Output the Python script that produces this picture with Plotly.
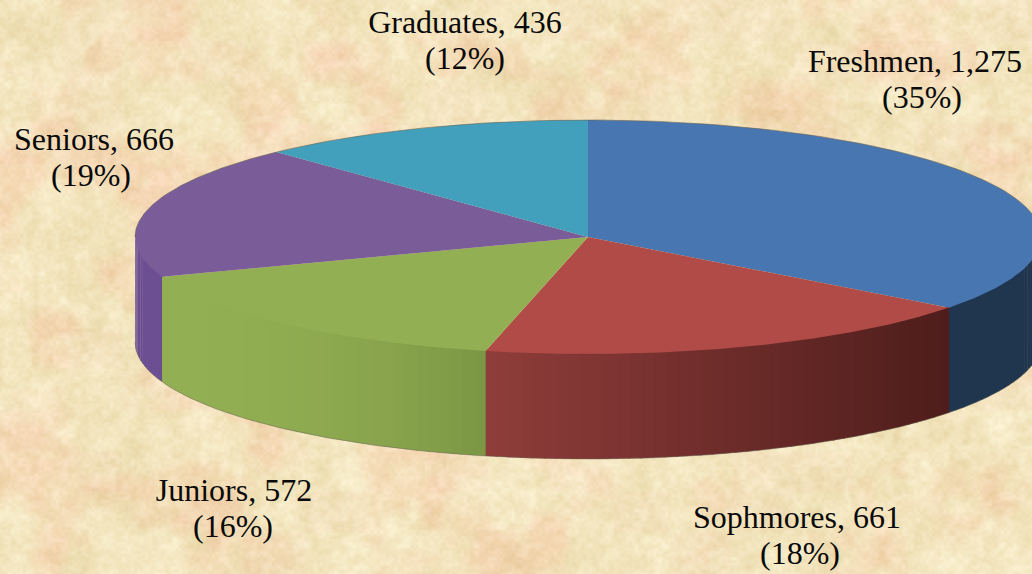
import base64, struct, zlib
import numpy as np
import plotly.graph_objects as go

categories = ["Freshmen", "Sophmores", "Juniors", "Seniors", "Graduates"]
counts = [1275, 661, 572, 666, 436]
percents = [35, 18, 16, 19, 12]
top_colors = ["#4776B0", "#B04B48", "#93AF53", "#795C98", "#42A0BC"]
# side colour of each slice at its left and right ends
side_left = ["#20364F", "#8F3D3A", "#93AF53", "#6C4F92", "#42A0BC"]
side_right = ["#20364F", "#4E1D1B", "#7C9744", "#6C4F92", "#42A0BC"]
label_x = [915, 797, 234, 94, 465]
label_x2 = [922, 800, 233, 91, 465]
label_y = [64, 520, 493, 142, 25]

W, H = 1032, 574
CX, CY, RX, RY, DEPTH = 588.0, 237.0, 453.0, 117.0, 105.0


def hash2(ix, iy, salt):
    v = np.sin(ix * 12.9898 + iy * 78.233 + salt * 37.719) * 43758.5453
    return v - np.floor(v)


def value_noise(xx, yy, cell, salt):
    gx, gy = xx / cell, yy / cell
    ix, iy = np.floor(gx), np.floor(gy)
    fx, fy = gx - ix, gy - iy
    fx, fy = fx * fx * (3 - 2 * fx), fy * fy * (3 - 2 * fy)
    top = hash2(ix, iy, salt) * (1 - fx) + hash2(ix + 1, iy, salt) * fx
    bot = hash2(ix, iy + 1, salt) * (1 - fx) + hash2(ix + 1, iy + 1, salt) * fx
    return (top * (1 - fy) + bot * fy) - .5


def texture():
    yy, xx = np.mgrid[0:H, 0:W].astype(float)
    n = (7 * value_noise(xx, yy, 3, 1) + 8 * value_noise(xx, yy, 7, 2)
         + 8 * value_noise(xx, yy, 16, 3) + 7 * value_noise(xx, yy, 40, 4))
    # pinkish blotches, partly along the repeat tiles of the background image
    p = np.clip(value_noise(xx, yy, 55, 5) * 2.2 + value_noise(xx, yy, 18, 6), 0, 1)
    tx, ty = (xx // 61), (yy // 41)
    warm = (hash2(tx, ty, 7) > .74) * 1.0
    r = 243 + 0.9 * n + 1 * p + .5 * warm
    g = 230 + 1.3 * n - 14 * p - 3 * warm
    b = 191 + 2.1 * n - 12 * p - 1 * warm
    rgb = np.clip(np.dstack([r, g, b]), 0, 255).astype(np.uint8)
    raw = b"".join(b"\x00" + rgb[i].tobytes() for i in range(H))

    def chunk(t, d):
        return struct.pack(">I", len(d)) + t + d + struct.pack(">I", zlib.crc32(t + d))

    png = (b"\x89PNG\r\n\x1a\n" + chunk(b"IHDR", struct.pack(">IIBBBBB", W, H, 8, 2, 0, 0, 0))
           + chunk(b"IDAT", zlib.compress(raw, 6)) + chunk(b"IEND", b""))
    return "data:image/png;base64," + base64.b64encode(png).decode()


def px(t):
    return CX + RX * np.sin(t)


def py(t):
    return CY - RY * np.cos(t)


def mix(c1, c2, f):
    a = [int(c1[i:i + 2], 16) for i in (1, 3, 5)]
    b = [int(c2[i:i + 2], 16) for i in (1, 3, 5)]
    return "rgb(%d,%d,%d)" % tuple(round(a[i] + (b[i] - a[i]) * f) for i in range(3))


shares = np.array(counts, float) / sum(counts)
edges = np.concatenate([[0], np.cumsum(shares)]) * 2 * np.pi

fig = go.Figure()

# walls: visible on the front half of the rim only
for i, name in enumerate(categories):
    a0, a1 = max(edges[i], np.pi / 2), min(edges[i + 1], 3 * np.pi / 2)
    if a1 <= a0:
        continue
    steps = max(2, int((a1 - a0) / np.radians(1.5)))
    ts = np.linspace(a0, a1, steps + 1)
    xr, xl = px(a0), px(a1)  # going clockwise, x runs right to left
    for k in range(steps):
        mid = (ts[k] + ts[k + 1]) / 2
        f = np.clip((px(mid) - xl) / max(xr - xl, 1), 0, 1)
        col = mix(side_left[i], side_right[i], f ** 2.0 if i == 2 else f)
        seg = np.linspace(ts[k], ts[k + 1] + .004, 4)
        x = np.concatenate([px(seg), px(seg[::-1])])
        y = np.concatenate([py(seg) - 2, py(seg[::-1]) + DEPTH])
        fig.add_trace(go.Scatter(x=x, y=y, mode="lines", fill="toself", fillcolor=col,
                                 line=dict(width=0), hoverinfo="skip", showlegend=False))

# silhouette edge
front = np.linspace(np.pi / 2, 3 * np.pi / 2, 200)
fig.add_trace(go.Scatter(x=px(front), y=py(front) + DEPTH, mode="lines",
                         line=dict(color="rgba(105,100,85,0.5)", width=1),
                         hoverinfo="skip", showlegend=False))

# top faces
for i, name in enumerate(categories):
    ts = np.linspace(edges[i], edges[i + 1], 160)
    x = np.concatenate([[CX], px(ts), [CX]])
    y = np.concatenate([[CY], py(ts), [CY]])
    fig.add_trace(go.Scatter(x=x, y=y, mode="lines", fill="toself", fillcolor=top_colors[i],
                             line=dict(width=0), name=name, hoverinfo="skip", showlegend=False))

rim = np.linspace(-np.pi / 2, np.pi / 2, 240)
fig.add_trace(go.Scatter(x=px(rim), y=py(rim), mode="lines",
                         line=dict(color="rgba(105,100,85,0.6)", width=1),
                         hoverinfo="skip", showlegend=False))

# labels
font = dict(family="Liberation Serif, Times New Roman, serif", size=32, color="#0A0A0A")
fig.add_trace(go.Scatter(x=label_x, y=label_y, mode="text",
                         text=[f"{c}, {v:,}" for c, v in zip(categories, counts)],
                         textposition="middle center", textfont=font,
                         hoverinfo="skip", showlegend=False))
fig.add_trace(go.Scatter(x=label_x2, y=[v + 36 for v in label_y], mode="text",
                         text=[f"({p}%)" for p in percents],
                         textposition="middle center", textfont=font,
                         hoverinfo="skip", showlegend=False))

fig.update_layout(
    width=W, height=H, margin=dict(l=0, r=0, t=0, b=0),
    paper_bgcolor="#F3E5BD", plot_bgcolor="rgba(0,0,0,0)",
    xaxis=dict(range=[0, W], visible=False, fixedrange=True),
    yaxis=dict(range=[H, 0], visible=False, fixedrange=True),
    images=[dict(source=texture(), xref="paper", yref="paper", x=0, y=1, sizex=1, sizey=1,
                 xanchor="left", yanchor="top", sizing="stretch", layer="below")],
)
fig.write_html("out.html", config={"displayModeBar": False, "responsive": False},
               post_script="document.body.style.margin='0';document.body.style.overflow='hidden';")
